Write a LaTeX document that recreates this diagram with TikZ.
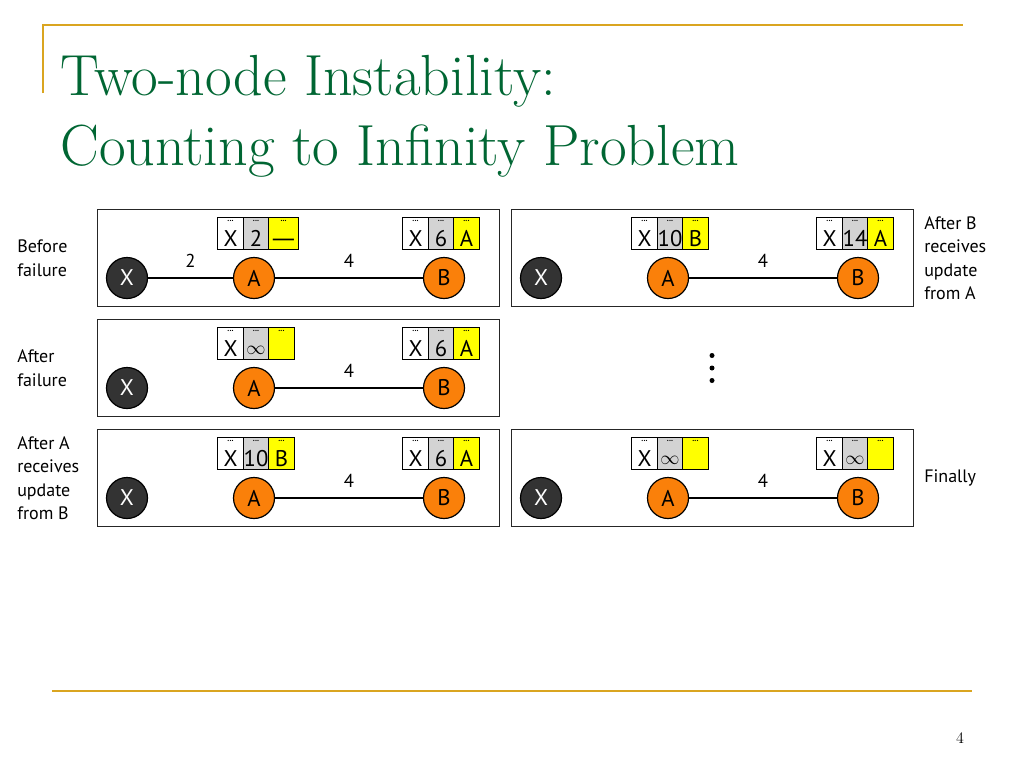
\documentclass[tikz,border=0pt]{standalone}
\usepackage{fontspec}
\setsansfont{PT Sans}
\usetikzlibrary{positioning}
\definecolor{gold}{RGB}{218,165,32}
\definecolor{ttlgreen}{RGB}{0,102,51}
\definecolor{org}{RGB}{250,128,10}
\definecolor{drk}{RGB}{51,51,51}
\definecolor{cst}{RGB}{211,211,211}
\definecolor{hop}{RGB}{255,255,0}

% routing table above a router: name, router, shift, cost, next hop
\newcommand{\rtable}[5]{%
  \node[cell=cst, above=5.6pt of #2, xshift=#3] (#1c) {#4};
  \node[cell=white, left=0pt of #1c] (#1d) {X};
  \node[cell=hop, right=0pt of #1c] (#1h) {#5};
}
\newcommand{\infcost}{\raisebox{1.2pt}{\fontsize{14}{14}\selectfont$\infty$}}
\newcommand{\nohop}{\scalebox{1.6}[1]{—}}

\begin{document}
\begin{tikzpicture}[x=0.75pt, y=-0.75pt,
    rule/.style={draw=gold, line width=2pt},
    ttl/.style={text=ttlgreen, font=\fontsize{43.5}{43.5}\selectfont, inner sep=0pt},
    panel/.style={draw=black!85, fill=white, line width=1.1pt,
      minimum width=301.5pt, minimum height=72.75pt, inner sep=0pt},
    router/.style={circle, draw=black, fill=#1, minimum size=30.75pt,
      inner sep=0pt, line width=0.9pt, font=\sffamily\fontsize{17}{17}\selectfont},
    cell/.style={draw=black, fill=#1, line width=0.6pt, minimum width=19.1pt,
      minimum height=24pt, text height=19.5pt, text depth=0pt, inner sep=0pt,
      outer sep=0pt, font=\sffamily\fontsize{17}{17}\selectfont,
      label={[dotlbl]north:...}},
    dotlbl/.style={anchor=north, inner sep=2.2pt,
      font=\sffamily\bfseries\fontsize{6}{6}\selectfont},
    link/.style={line width=1.5pt},
    wlbl/.style={inner sep=0pt, font=\sffamily\fontsize{14}{14}\selectfont},
    state/.style={align=left, inner sep=0pt,
      font=\sffamily\fontsize{13.5}{17.6}\selectfont}
  ]
  \fill[white] (0,0) rectangle (1024,768);
  \useasboundingbox (0,0) rectangle (1024,768);

  % slide frame
  \draw[rule] (43,93) -- (43,25) -- (963,25);
  \draw[rule] (52,691) -- (972,691);
  \node[ttl, anchor=base west] (ttl1) at (60,95) {Two-node Instability:};
  \node[ttl, anchor=base west] (ttl2) at ([yshift=-52.5pt]ttl1.base west) {Counting to Infinity Problem};
  \node[anchor=base, font=\fontsize{12}{12}\selectfont] (pagenum) at (960,743) {4};

  % the five snapshots
  \foreach \p/\bx/\by/\ac/\ah/\bc/\bh in {1/97/209/2/\nohop/6/A, 2/97/319/\infcost/{}/6/A,
      3/97/429/10/B/6/A, 4/511/209/10/B/14/A, 5/511/429/\infcost/{}/\infcost/{}}{
    \node[panel, anchor=north west] (box\p) at (\bx,\by) {};
    \node[router=drk, text=white] (X\p) at ([shift={(30,69)}]box\p.north west) {X};
    \node[router=org] (A\p) at ([shift={(157,69)}]box\p.north west) {A};
    \node[router=org] (B\p) at ([shift={(347,69)}]box\p.north west) {B};
    \rtable{tA\p}{A\p}{1.5pt}{\ac}{\ah}
    \rtable{tB\p}{B\p}{-2.25pt}{\bc}{\bh}
    \draw[link] (A\p) -- node[wlbl, above=7pt]{4} (B\p);
  }
  \draw[link] (X1) -- node[wlbl, above=7pt]{2} (A1);

  % skipped steps
  \foreach \d in {-12.5,0,12.5}
    \fill (712,368+\d) circle (2.5);

  % captions
  \node[state, anchor=west] (cap1) at (17,258) {Before\\failure};
  \node[state, anchor=west] (cap2) at (17,368) {After\\failure};
  \node[state, anchor=west] (cap3) at (17,478) {After A\\receives\\update\\from B};
  \node[state, anchor=west] (cap4) at (924,258) {After B\\receives\\update\\from A};
  \node[state, anchor=west] (cap5) at (924,478) {Finally};
\end{tikzpicture}
\end{document}
